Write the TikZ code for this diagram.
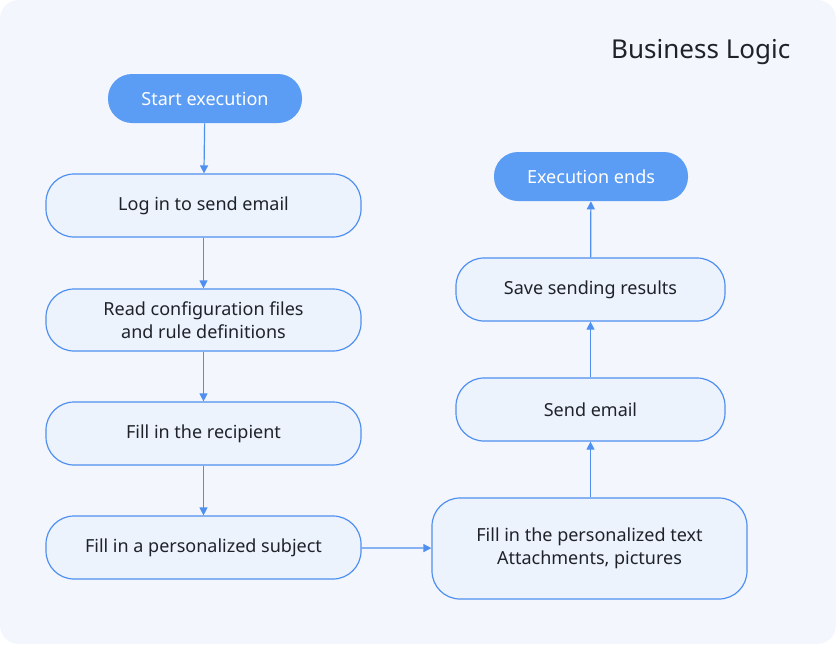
\documentclass[tikz,border=0pt]{standalone}
\usepackage{fontspec}
\setmainfont{Noto Sans}
\usetikzlibrary{arrows.meta}
\definecolor{bg}{HTML}{F3F7FD}
\definecolor{bfill}{HTML}{EDF3FD}
\definecolor{bline}{HTML}{4F8FEF}
\definecolor{term}{HTML}{5B9CF5}
\definecolor{txt}{HTML}{1F2329}
\begin{document}
\begin{tikzpicture}[x=0.75pt,y=-0.75pt,
  box/.style={draw=bline,line width=0.9pt,fill=bfill,rounded corners=21pt,align=center,text=txt,font=\fontsize{13.5}{17}\selectfont,inner sep=0pt},
  term/.style={fill=term,rounded corners=18pt,text=white,font=\fontsize{13.5}{17}\selectfont,inner sep=0pt},
  arr/.style={draw=bline,line width=0.9pt,-{Triangle[length=6pt,width=6pt]}}]
\useasboundingbox (0,0) rectangle (836,644);
\fill[bg,rounded corners=14pt] (0,0) rectangle (836,644);
\node[anchor=east,text=txt,font=\fontsize{19.5}{24}\selectfont] (title) at (795,52) {Business Logic};
\node[term,minimum width=145.5pt,minimum height=36.75pt] (s) at (205,98.5) {Start execution};
\node[box,minimum width=236.25pt,minimum height=47.25pt] (a) at (203.5,205.5) {Log in to send email};
\node[box,minimum width=236.25pt,minimum height=46.5pt] (b) at (203.5,320) {Read configuration files\\and rule definitions};
\node[box,minimum width=236.25pt,minimum height=47.25pt] (c) at (203.5,433.5) {Fill in the recipient};
\node[box,minimum width=236.25pt,minimum height=47.25pt] (d) at (203.5,547.5) {Fill in a personalized subject};
\node[box,minimum width=236.25pt,minimum height=75.75pt] (e) at (589.5,548.5) {Fill in the personalized text\\Attachments, pictures};
\node[box,minimum width=201.75pt,minimum height=47.25pt] (f) at (590.5,409.5) {Send email};
\node[box,minimum width=201.75pt,minimum height=47.25pt] (g) at (590.5,289.5) {Save sending results};
\node[term,minimum width=145.5pt,minimum height=36.75pt] (h) at (591,176.5) {Execution ends};
\draw[arr] (s) -- (a);
\draw[arr] (a) -- (b);
\draw[arr] (b) -- (c);
\draw[arr] (c) -- (d);
\draw[arr] (d) -- (e);
\draw[arr] (e.north -| f) -- (f);
\draw[arr] (f) -- (g);
\draw[arr] (g) -- (h);
\end{tikzpicture}
\end{document}
